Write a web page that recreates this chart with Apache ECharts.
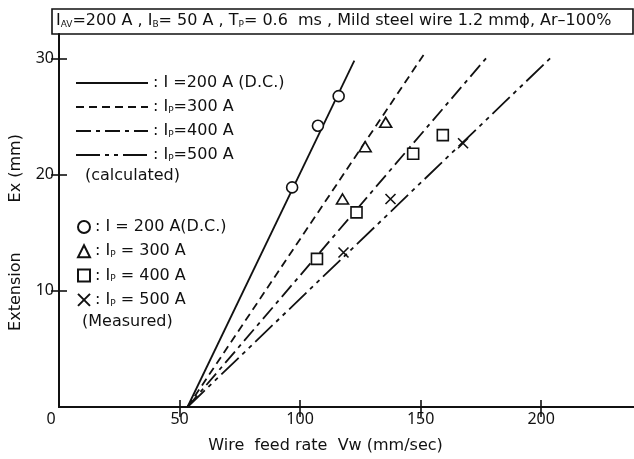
<!DOCTYPE html>
<html>
<head>
<meta charset="utf-8"/>
<script src="https://cdn.jsdelivr.net/npm/echarts@6/dist/echarts.min.js"></script>
<style>
  html, body { margin: 0; padding: 0; background: #fff; }
  #main { width: 634px; height: 459px; }
</style>
</head>
<body>
<div id="main"></div>
<script>
// calculated lines (start and end point of each straight line)
var calcNames = ['c200', 'c300', 'c400', 'c500'];
var calcX = [[53.3, 122.5], [53.3, 151.2], [53.3, 177.5], [53.3, 203.7]];
var calcY = [[0, 29.8], [0, 30.3], [0, 30.1], [0, 30.0]];

// measured points
var dcX = [96.7, 107.4, 116.0];
var dcY = [18.9, 24.2, 26.75];
var p300X = [117.6, 127.0, 135.5];
var p300Y = [17.9, 22.4, 24.5];
var p400X = [107.0, 123.4, 146.9, 159.2];
var p400Y = [12.75, 16.75, 21.8, 23.4];
var p500X = [118.0, 137.5, 167.6];
var p500Y = [13.3, 17.9, 22.7];

var xTicks = [0, 50, 100, 150, 200];
var yLabels = [10, 20, 30];

var FONT = 'DejaVu Sans';
var NUM = 'Noto Sans';
var INK = '#111';

function pairs(xs, ys) {
  var out = [];
  for (var i = 0; i < xs.length; i++) out.push([xs[i], ys[i]]);
  return out;
}

var sub = { fontSize: 9, fontFamily: FONT, color: INK, padding: [7, 0, 0, 0] };
var legendRich = {
  t: { fontSize: 16, fontFamily: FONT, color: INK, lineHeight: 16 },
  s: sub
};

var legendText = {
  c200: '{t|: I =200 A (D.C.)}',
  c300: '{t|: I}{s|P}{t|=300 A}',
  c400: '{t|: I}{s|P}{t|=400 A}',
  c500: '{t|: I}{s|P}{t|=500 A}',
  m200: '{t|: I = 200 A(D.C.)}',
  m300: '{t|: I}{s|P}{t| = 300 A}',
  m400: '{t|: I}{s|P}{t| = 400 A}',
  m500: '{t|: I}{s|P}{t| = 500 A}'
};

var dashes = ['solid', [8, 5], [15, 5, 4, 5], [24, 5, 4, 5, 4, 5]];

var series = [];
for (var i = 0; i < calcNames.length; i++) {
  series.push({
    name: calcNames[i],
    type: 'line',
    symbol: 'none',
    data: pairs(calcX[i], calcY[i]),
    lineStyle: { color: INK, width: 1.8, type: dashes[i] },
    itemStyle: { color: INK },
    z: 2
  });
}

var mk = { color: '#fff', borderColor: INK, borderWidth: 1.6, opacity: 1 };
series.push({ name: 'm200', type: 'scatter', symbol: 'circle', symbolSize: 11, data: pairs(dcX, dcY), itemStyle: mk, z: 3 });
series.push({ name: 'm300', type: 'scatter', symbol: 'triangle', symbolSize: [12, 10], data: pairs(p300X, p300Y), itemStyle: mk, z: 3 });
series.push({ name: 'm400', type: 'scatter', symbol: 'rect', symbolSize: 11, data: pairs(p400X, p400Y), itemStyle: mk, z: 3 });
series.push({ name: 'm500', type: 'scatter', symbol: 'path://M0,0L10,10M10,0L0,10', symbolSize: 10, data: pairs(p500X, p500Y), itemStyle: mk, z: 3 });

var axisLine = { show: true, lineStyle: { color: INK, width: 2 } };

var myChart = echarts.init(document.getElementById('main'), null, { renderer: 'canvas' });

var option = {
  backgroundColor: '#fff',
  animation: false,
  title: {
    text: 'I{s|AV}=200 A , I{s|B}= 50 A , T{s|P}= 0.6  ms , Mild steel wire 1.2 mmϕ, Ar–100%',
    left: 56,
    top: 12,
    padding: 0,
    textStyle: {
      fontSize: 16, fontFamily: FONT, fontWeight: 'normal', color: INK, lineHeight: 18,
      rich: { s: sub }
    }
  },
  grid: { left: 52, top: 34, right: 0, bottom: 40, containLabel: false },
  legend: [
    {
      data: calcNames,
      left: 75, top: 75,
      padding: 0,
      orient: 'vertical',
      itemWidth: 72, itemHeight: 14, itemGap: 8,
      itemStyle: { color: 'rgba(0,0,0,0)', borderColor: 'rgba(0,0,0,0)', borderWidth: 0, opacity: 0 },
      formatter: function (n) { return legendText[n]; },
      textStyle: { rich: legendRich },
      selectedMode: false
    },
    {
      data: ['m200', 'm300', 'm400', 'm500'],
      left: 77, top: 219,
      padding: 0,
      orient: 'vertical',
      itemWidth: 12, itemHeight: 12, itemGap: 8.3,
      formatter: function (n) { return legendText[n]; },
      textStyle: { rich: legendRich },
      selectedMode: false
    }
  ],
  graphic: [
    { type: 'rect', shape: { x: 52, y: 9, width: 581, height: 25 }, style: { fill: 'none', stroke: INK, lineWidth: 1.6 } },
    { type: 'text', left: 85, top: 168, style: { text: '(calculated)', font: '16px "DejaVu Sans"', fill: INK } },
    { type: 'text', left: 82, top: 314, style: { text: '(Measured)', font: '16px "DejaVu Sans"', fill: INK } }
  ],
  xAxis: [
    {
      type: 'value', min: 0, max: 238.5, interval: 50,
      name: 'Wire  feed rate  Vw (mm/sec)',
      nameLocation: 'middle', nameGap: 31,
      nameTextStyle: { fontSize: 16, fontFamily: FONT, color: INK, padding: [0, 42, 0, 0] },
      axisLine: axisLine,
      axisTick: { inside: true, length: 7, customValues: xTicks, lineStyle: { color: INK, width: 1.6 } },
      axisLabel: {
        margin: 4,
        customValues: xTicks,
        fontSize: 16, fontFamily: NUM, color: INK,
        formatter: function (v) { return v === 0 ? '{z|0}' : String(v); },
        rich: { z: { fontSize: 16, fontFamily: NUM, color: INK, padding: [0, 16, 0, 0] } }
      },
      splitLine: { show: false }
    },
    {
      type: 'value', position: 'top', min: 0, max: 238.5, interval: 50,
      axisLine: axisLine,
      axisTick: { inside: true, length: 10, customValues: [50, 100, 150, 200], lineStyle: { color: INK, width: 1.6 } },
      axisLabel: { show: false },
      splitLine: { show: false }
    }
  ],
  yAxis: [
    {
      type: 'value', min: 0, max: 32.1, interval: 10,
      name: '{a|Extension}{g|}{a|Ex (mm)}',
      nameLocation: 'middle', nameGap: 35,
      nameTextStyle: {
        fontSize: 16, fontFamily: FONT, color: INK, padding: [0, 24, 0, 0],
        rich: {
          a: { fontSize: 16, fontFamily: FONT, color: INK },
          g: { width: 50 }
        }
      },
      axisLine: axisLine,
      axisTick: { inside: true, length: 8, customValues: yLabels, lineStyle: { color: INK, width: 1.6 } },
      axisLabel: {
        margin: 5,
        customValues: yLabels,
        fontSize: 16, fontFamily: NUM, color: INK
      },
      splitLine: { show: false }
    },
    {
      type: 'value', position: 'right', min: 0, max: 32.1, interval: 10,
      axisLine: { show: false },
      axisTick: { inside: true, length: 8, customValues: yLabels, lineStyle: { color: INK, width: 1.6 } },
      axisLabel: { show: false },
      splitLine: { show: false }
    }
  ],
  series: series
};

myChart.setOption(option);
</script>
</body>
</html>
